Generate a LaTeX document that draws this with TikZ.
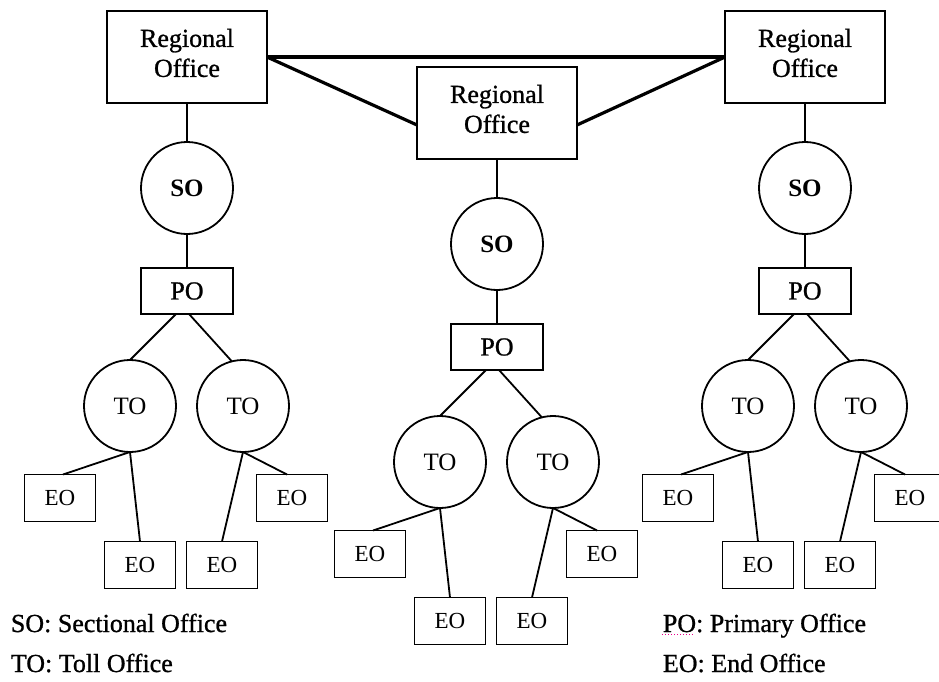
\documentclass[tikz,border=0pt]{standalone}
\usepackage{fontspec}
\setmainfont{Liberation Serif}
\newfontfamily\heavyserif[FakeBold=0.9]{Liberation Serif}
\begin{document}
\begin{tikzpicture}[x=1pt,y=-1pt, line width=1.8pt,
  rbox/.style={draw, rectangle, minimum width=160pt, minimum height=92pt, inner sep=0pt, outer sep=0pt},
  rtext/.style={align=center, inner sep=0pt, yshift=4pt, font=\heavyserif\fontsize{26}{30}\selectfont},
  circ/.style={draw, circle, minimum size=92pt, inner sep=0pt, outer sep=0pt},
  sonode/.style={circ, font=\fontsize{25}{30}\selectfont\bfseries},
  tonode/.style={circ, font=\fontsize{25}{30}\selectfont},
  ponode/.style={draw, rectangle, minimum width=92pt, minimum height=46pt, inner sep=0pt, outer sep=0pt, font=\heavyserif\fontsize{26}{30}\selectfont},
  eonode/.style={draw, rectangle, minimum width=71pt, minimum height=47pt, inner sep=0pt, outer sep=0pt, font=\fontsize{23}{30}\selectfont},
  leg/.style={anchor=base west, inner sep=0pt, font=\heavyserif\fontsize{26}{30}\selectfont},
  link/.style={line width=1.8pt},
  trunk/.style={line width=3.2pt}]
\useasboundingbox (0,0) rectangle (939,682);
\fill[white] (0,0) rectangle (939,682);
\foreach \dx/\dy/\p in {0/0/L, 310/56/M, 618/0/R}{
  \begin{scope}[shift={(\dx,\dy)}, name prefix=\p-]
    \node[rbox, label={[rtext]center:Regional\\Office}] (ro) at (187,57) {};
    \node[sonode] (so) at (187,188) {SO};
    \node[ponode] (po) at (187,291) {PO};
    \node[tonode] (to1) at (130,406) {TO};
    \node[tonode] (to2) at (243,406) {TO};
    \node[eonode] (eo1) at (60,498) {EO};
    \node[eonode] (eo2) at (140,565) {EO};
    \node[eonode] (eo3) at (222,565) {EO};
    \node[eonode] (eo4) at (292,498) {EO};
    \draw[link] (ro.south) -- (so.north);
    \draw[link] (so.south) -- (po.north);
    \draw[link] ([xshift=-11pt]po.south) -- (to1.north);
    \draw[link] ([xshift=2pt]po.south) -- (to2.104);
    \draw[link] (to1.south) -- ([xshift=3pt]eo1.north);
    \draw[link] (to1.south) -- (eo2.north);
    \draw[link] (to2.south) -- (eo3.north);
    \draw[link] (to2.south) -- ([xshift=-5pt]eo4.north);
  \end{scope}
}
\draw[trunk] (L-ro.east) -- (R-ro.west);
\draw[trunk] (L-ro.east) -- ([yshift=-12pt]M-ro.west);
\draw[trunk] ([yshift=-12pt]M-ro.east) -- (R-ro.west);
\node[leg] (lso) at (10,632) {SO: Sectional Office};
\node[leg] (lto) at (10,672) {TO: Toll Office};
\node[leg] (lpo) at (662,632) {PO: Primary Office};
\node[leg] (leo) at (662,672) {EO: End Office};
\draw[magenta, line width=1pt, dash pattern=on 1pt off 2pt] ([yshift=-2pt]lpo.base west) -- ++(31,0);
\end{tikzpicture}
\end{document}
